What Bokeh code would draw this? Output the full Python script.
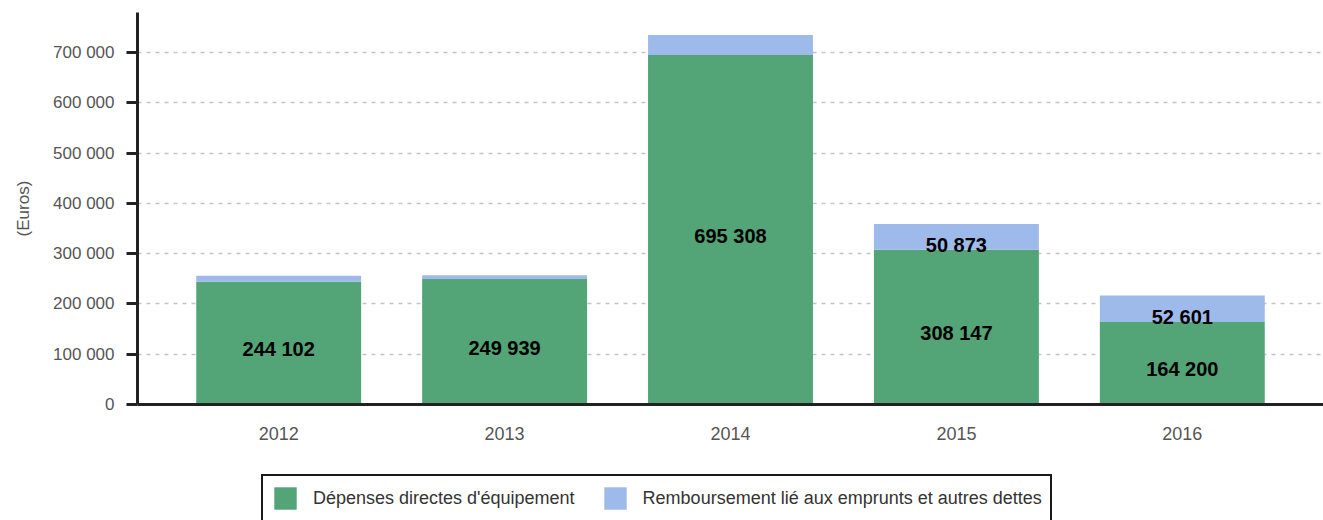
from bokeh.plotting import figure
from bokeh.layouts import column
from bokeh.models import (ColumnDataSource, FactorRange, Range1d, Legend, LegendItem,
                          FixedTicker)
from bokeh.core.properties import value
from bokeh.embed import file_html
from bokeh.resources import INLINE

# ---- data ----
years = ["2012", "2013", "2014", "2015", "2016"]
depenses = [244102, 249939, 695308, 308147, 164200]
remboursement = [12000, 7000, 40000, 50873, 52601]
depenses_labels = ["244 102", "249 939", "695 308", "308 147", "164 200"]
remboursement_labels = ["", "", "", "50 873", "52 601"]
series_names = ["Dépenses directes d'équipement",
                "Remboursement lié aux emprunts et autres dettes"]
y_ticks = [0, 100000, 200000, 300000, 400000, 500000, 600000, 700000]
y_tick_labels = ["0", "100 000", "200 000", "300 000", "400 000",
                 "500 000", "600 000", "700 000"]
y_axis_title = "(Euros)"

colors = ["#53A476", "#9DBAEA"]
FONT = "Liberation Sans"

src = ColumnDataSource(dict(
    year=years,
    dep=depenses,
    remb=remboursement,
    dep_mid=[d / 2 for d in depenses],
    remb_mid=[d + r / 2 for d, r in zip(depenses, remboursement)],
    dep_lbl=depenses_labels,
    remb_lbl=remboursement_labels,
))

p = figure(
    x_range=FactorRange(factors=years, range_padding=0.125, range_padding_units="absolute"),
    y_range=Range1d(0, 780000),
    width=1323, height=460,
    output_backend="svg", toolbar_location=None,
    min_border_left=137, min_border_right=0, min_border_top=12, min_border_bottom=56,
)
p.outline_line_color = None
p.background_fill_color = "white"
p.border_fill_color = "white"

bars = p.vbar_stack(["dep", "remb"], x="year", width=0.73, source=src,
                    color=colors, line_color=None)

p.text(x="year", y="dep_mid", text="dep_lbl", source=src,
       text_align="center", text_baseline="middle",
       text_font=value(FONT), text_font_style="bold", text_font_size="20px",
       text_color="black", y_offset=6)
p.text(x="year", y="remb_mid", text="remb_lbl", source=src,
       text_align="center", text_baseline="middle",
       text_font=value(FONT), text_font_style="bold", text_font_size="20px",
       text_color="black", y_offset=8)

# grid
p.xgrid.grid_line_color = None
p.ygrid.ticker = FixedTicker(ticks=y_ticks)
p.ygrid.grid_line_color = "#c4c4c4"
p.ygrid.grid_line_dash = "4 5"
p.ygrid.grid_line_width = 1.5

# y axis
p.yaxis.ticker = FixedTicker(ticks=y_ticks)
p.yaxis.major_label_overrides = {t: l for t, l in zip(y_ticks, y_tick_labels)}
p.yaxis.minor_tick_line_color = None
p.yaxis.major_tick_out = 11
p.yaxis.major_tick_in = 0
p.yaxis.major_tick_line_width = 3
p.yaxis.major_tick_line_color = "#222222"
p.yaxis.axis_line_width = 3
p.yaxis.axis_line_color = "#222222"
p.yaxis.major_label_text_font = FONT
p.yaxis.major_label_text_font_size = "17px"
p.yaxis.major_label_text_color = "#555555"
p.yaxis.major_label_standoff = 12
p.yaxis.axis_label = y_axis_title
p.yaxis.axis_label_text_font = FONT
p.yaxis.axis_label_text_font_size = "17px"
p.yaxis.axis_label_text_font_style = "normal"
p.yaxis.axis_label_text_color = "#555555"
p.yaxis.axis_label_standoff = 17

# x axis
p.xaxis.major_tick_line_color = None
p.xaxis.minor_tick_line_color = None
p.xaxis.axis_line_width = 3
p.xaxis.axis_line_color = "#222222"
p.xaxis.major_label_text_font = FONT
p.xaxis.major_label_text_font_size = "18px"
p.xaxis.major_label_text_color = "#555555"
p.xaxis.major_label_standoff = 16

# ---- legend strip (its own bars lie far outside its visible y window) ----
p2 = figure(width=1323, height=60, x_range=FactorRange(factors=years),
            y_range=Range1d(2000000, 3000000),
            output_backend="svg", toolbar_location=None,
            x_axis_type=None, y_axis_type=None,
            min_border_left=0, min_border_right=0, min_border_top=0, min_border_bottom=0)
p2.outline_line_color = None
p2.grid.grid_line_color = None
p2.background_fill_color = "white"
p2.border_fill_color = "white"

leg_r = p2.vbar_stack(["dep", "remb"], x="year", width=0.73, source=src,
                      color=colors, line_color=None)

legend = Legend(
    items=[LegendItem(label=series_names[0], renderers=[leg_r[0]]),
           LegendItem(label=series_names[1], renderers=[leg_r[1]])],
    orientation="horizontal", location=(124, -2),
    glyph_width=28, glyph_height=28, label_standoff=14, spacing=26,
    padding=8, margin=0,
    border_line_color="#1a1a1a", border_line_width=2.5, border_line_alpha=1.0,
    background_fill_color="white", background_fill_alpha=1.0,
    label_text_font=FONT, label_text_font_size="18px", label_text_color="#333333",
)
p2.add_layout(legend)

layout = column(p, p2, spacing=0)
open("out.html", "w").write(file_html(layout, INLINE))
